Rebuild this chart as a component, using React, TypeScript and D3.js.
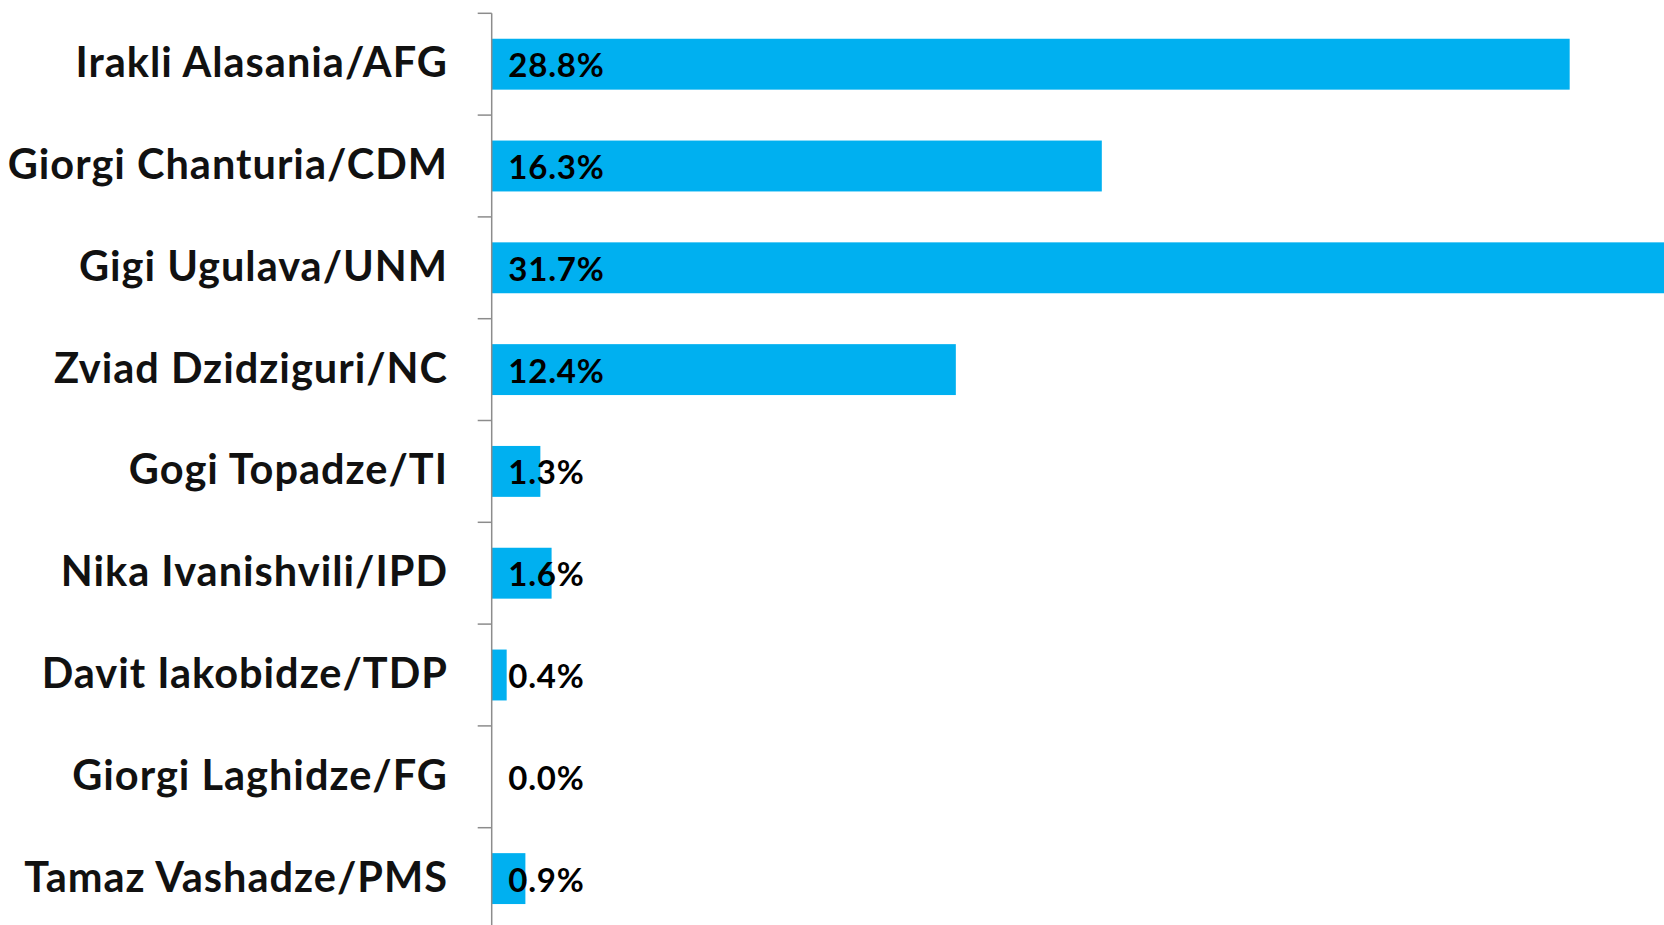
import React from 'react';
import * as d3 from 'd3';

// candidates and vote share (%)
const candidates = [
  'Irakli Alasania/AFG',
  'Giorgi Chanturia/CDM',
  'Gigi Ugulava/UNM',
  'Zviad Dzidziguri/NC',
  'Gogi Topadze/TI',
  'Nika Ivanishvili/IPD',
  'Davit Iakobidze/TDP',
  'Giorgi Laghidze/FG',
  'Tamaz Vashadze/PMS',
];
const shares = [28.8, 16.3, 31.7, 12.4, 1.3, 1.6, 0.4, 0.0, 0.9];

const W = 1664;
const H = 925;
const axisX = 491.7;
const top = 13.3;
const step = 101.8;

export default function App() {
  const x = d3.scaleLinear().domain([0, 30]).range([axisX, axisX + 30 * 37.43]);
  const y = d3
    .scaleBand<string>()
    .domain(candidates)
    .range([top, top + step * candidates.length])
    .paddingInner(0.5)
    .paddingOuter(0.25);

  const ticks = d3.range(candidates.length + 1).map((i) => top + i * y.step());

  return (
    <svg
      width={W}
      height={H}
      style={{ position: 'absolute', left: 0, top: 0, background: '#fff' }}
      fontFamily="Lato, 'Open Sans', sans-serif"
      fontWeight="bold"
    >
      {/* bars */}
      {candidates.map((c, i) => (
        <rect
          key={c}
          x={x(0)}
          y={y(c)}
          width={Math.max(0, x(shares[i]) - x(0))}
          height={y.bandwidth()}
          fill="#00B0F0"
        />
      ))}

      {/* axis */}
      <line x1={axisX} x2={axisX} y1={top} y2={H + 10} stroke="#8c8c8c" strokeWidth={1.5} />
      {ticks.map((t, i) => (
        <line key={i} x1={axisX - 14} x2={axisX} y1={t} y2={t} stroke="#8c8c8c" strokeWidth={1.5} />
      ))}

      {/* category labels */}
      {candidates.map((c) => (
        <text
          key={c}
          x={448}
          y={(y(c) ?? 0) + y.bandwidth() / 2 + 13}
          textAnchor="end"
          fontSize={41.5}
          letterSpacing={1}
          fill="#111"
        >
          {c}
        </text>
      ))}

      {/* value labels */}
      {candidates.map((c, i) => (
        <text
          key={c}
          x={axisX + 16.6}
          y={(y(c) ?? 0) + y.bandwidth() / 2 + 13}
          fontSize={33}
          letterSpacing={0.8}
          fill="#000"
        >
          {shares[i].toFixed(1) + '%'}
        </text>
      ))}
    </svg>
  );
}
